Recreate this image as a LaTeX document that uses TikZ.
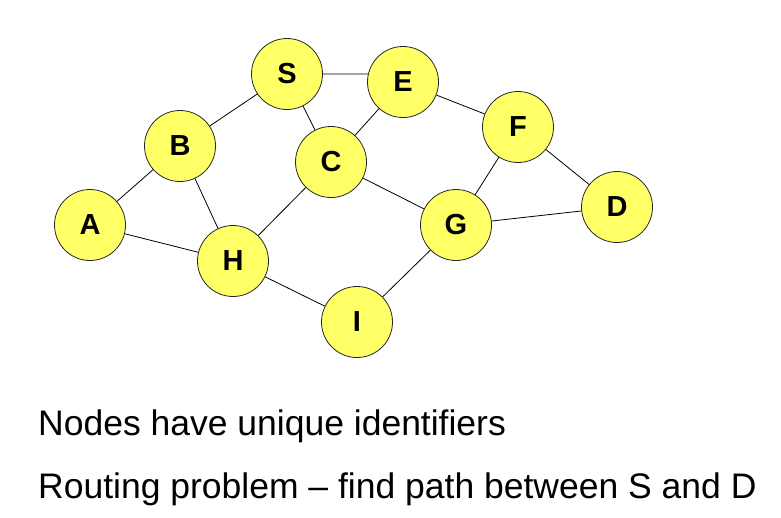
\documentclass[tikz,border=0pt]{standalone}
\usepackage{fontspec}
\setmainfont{Liberation Sans}
\definecolor{vtxfill}{RGB}{255,255,102}

\begin{document}
\begin{tikzpicture}[
  x=1pt, y=-1pt,
  vtx/.style ={draw=black!85,circle,fill=vtxfill,line width=0.8pt,minimum size=71pt,inner sep=0,
               font=\fontsize{29}{34}\selectfont\bfseries},
  ln/.style  ={draw,line width=0.8pt},
  txt/.style ={anchor=base west,inner sep=0,font=\fontsize{35.5}{42}\selectfont},
]
\useasboundingbox (0,0) rectangle (781,517);

% ------------------------------------------------------------------ vertices
\foreach \n/\xo/\yo in {S/287/74, E/403/82, B/180/146, C/331/162, F/518/127,
                        A/90/225, H/233/261, G/456/225, D/617/207, I/357/322} {
  \node[vtx] (\n) at (\xo,\yo) {\n};
}

% --------------------------------------------------------------------- links
\foreach \a/\b in {S/B, S/C, E/C, E/F, B/A, B/H, A/H,
                   C/H, C/G, F/G, F/D, G/D, H/I, I/G} {
  \draw[ln] (\a) -- (\b);
}
\draw[ln] (S.east) -- (E.167); % level link

% ---------------------------------------------------------------------- text
\node[txt] (t1) at (38,435) {Nodes have unique identifiers};
\node[txt] (t2) at (38,498) {Routing problem -- find path between S and D};

\end{tikzpicture}
\end{document}
